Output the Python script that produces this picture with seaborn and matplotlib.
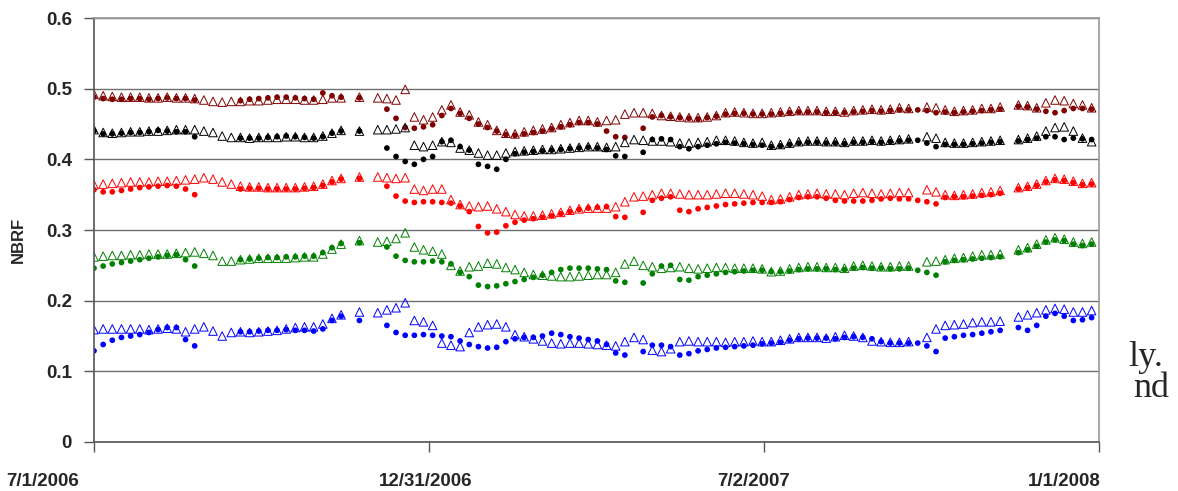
import numpy as np
import pandas as pd
import seaborn as sns
import matplotlib.pyplot as plt
from matplotlib.transforms import ScaledTranslation

nan = np.nan

# sampling dates: every 5 days from 7/1/2006 (110 samples)
dates = pd.date_range('2006-07-01', periods=110, freq='5D')

# dark red band
dr_t = [0.492, 0.490, 0.489, 0.488, 0.488, 0.488, 0.487, 0.487, 0.488, 0.487,
        0.487, 0.486, 0.484, 0.482, 0.481, 0.482, 0.482, 0.483, 0.483, 0.484,
        0.485, 0.485, 0.485, 0.484, 0.484, 0.485, 0.487, 0.487, nan, 0.488,
        nan, 0.487, 0.486, 0.484, 0.499, 0.460, 0.456, 0.460, 0.470, 0.477,
        0.467, 0.463, 0.453, 0.449, 0.441, 0.437, 0.436, 0.439, 0.441, 0.443,
        0.445, 0.449, 0.452, 0.455, 0.455, 0.453, 0.455, 0.456, 0.464, 0.466,
        0.466, 0.465, 0.462, 0.461, 0.460, 0.459, 0.459, 0.460, 0.462, 0.466,
        0.467, 0.466, 0.465, 0.465, 0.466, 0.467, 0.468, 0.469, 0.469, 0.469,
        0.468, 0.468, 0.467, 0.469, 0.470, 0.471, 0.470, 0.471, 0.473, 0.472,
        nan, 0.474, 0.473, 0.470, 0.468, 0.469, 0.470, 0.472, 0.472, 0.474,
        nan, 0.477, 0.476, 0.473, 0.480, 0.484, 0.483, 0.479, 0.477, 0.473]
dr_d = [0.488, 0.486, 0.485, 0.485, 0.486, 0.486, 0.485, 0.486, 0.487, 0.486,
        0.486, 0.484, nan, nan, nan, nan, 0.483, 0.485, 0.486, 0.487,
        0.488, 0.488, 0.487, 0.486, 0.485, 0.494, 0.490, 0.488, nan, 0.487,
        nan, nan, 0.471, 0.458, 0.445, 0.444, 0.446, 0.449, 0.462, 0.472,
        0.465, 0.458, 0.450, 0.445, 0.440, 0.435, 0.434, 0.436, 0.438, 0.440,
        0.443, 0.446, 0.449, 0.452, 0.452, 0.450, 0.440, 0.432, 0.431, nan,
        0.444, 0.460, 0.462, 0.460, 0.459, 0.458, 0.457, 0.459, 0.461, 0.464,
        0.465, 0.465, 0.464, 0.464, 0.464, 0.465, 0.466, 0.467, 0.467, 0.467,
        0.466, 0.466, 0.466, 0.467, 0.468, 0.469, 0.468, 0.469, 0.470, 0.470,
        0.470, 0.469, 0.466, 0.467, 0.466, 0.467, 0.468, 0.469, 0.470, 0.471,
        nan, 0.475, 0.474, 0.471, 0.468, 0.466, 0.469, 0.472, 0.472, 0.471]

# black band
bk_t = [0.442, 0.438, 0.437, 0.438, 0.439, 0.439, 0.440, 0.440, 0.441, 0.442,
        0.442, 0.442, 0.440, 0.438, 0.433, 0.431, 0.431, 0.430, 0.431, 0.431,
        0.431, 0.432, 0.432, 0.431, 0.431, 0.433, 0.437, 0.441, nan, 0.440,
        nan, 0.442, 0.442, 0.443, 0.445, 0.420, 0.418, 0.420, 0.425, 0.424,
        0.416, 0.413, 0.409, 0.406, 0.406, 0.409, 0.411, 0.412, 0.413, 0.414,
        0.414, 0.415, 0.416, 0.417, 0.418, 0.418, 0.417, 0.418, 0.424, 0.428,
        0.427, 0.426, 0.426, 0.425, 0.423, 0.423, 0.424, 0.425, 0.427, 0.427,
        0.426, 0.424, 0.423, 0.424, 0.420, 0.421, 0.423, 0.425, 0.426, 0.426,
        0.425, 0.425, 0.424, 0.426, 0.426, 0.427, 0.426, 0.427, 0.428, 0.429,
        nan, 0.432, 0.430, 0.424, 0.423, 0.423, 0.424, 0.425, 0.426, 0.427,
        nan, 0.428, 0.430, 0.433, 0.440, 0.445, 0.446, 0.440, 0.430, 0.425]
bk_d = [0.440, 0.436, 0.436, 0.437, 0.438, 0.438, 0.439, 0.441, 0.440, 0.439,
        0.439, 0.432, nan, nan, nan, nan, 0.430, 0.430, 0.430, 0.431,
        0.432, 0.433, 0.432, 0.431, 0.430, 0.432, 0.437, 0.440, nan, 0.440,
        nan, nan, 0.416, 0.404, 0.397, 0.393, 0.400, 0.404, 0.425, 0.427,
        0.418, 0.413, 0.393, 0.390, 0.386, 0.400, 0.408, 0.410, 0.411, 0.412,
        0.413, 0.414, 0.415, 0.416, 0.417, 0.416, 0.414, 0.405, 0.404, nan,
        0.410, 0.428, 0.429, 0.428, 0.418, 0.415, 0.418, 0.420, 0.422, 0.424,
        0.423, 0.422, 0.421, 0.420, 0.418, 0.419, 0.421, 0.423, 0.424, 0.424,
        0.423, 0.423, 0.422, 0.424, 0.424, 0.425, 0.424, 0.425, 0.426, 0.427,
        0.427, 0.423, 0.418, 0.421, 0.421, 0.421, 0.422, 0.423, 0.424, 0.425,
        nan, 0.426, 0.428, 0.430, 0.432, 0.432, 0.428, 0.430, 0.429, 0.428]

# red band
rd_t = [0.364, 0.365, 0.366, 0.367, 0.368, 0.368, 0.368, 0.369, 0.369, 0.370,
        0.371, 0.372, 0.374, 0.372, 0.368, 0.365, 0.362, 0.361, 0.361, 0.360,
        0.360, 0.360, 0.360, 0.361, 0.362, 0.365, 0.370, 0.373, nan, 0.375,
        nan, 0.375, 0.374, 0.373, 0.374, 0.358, 0.356, 0.358, 0.358, 0.343,
        0.336, 0.334, 0.333, 0.334, 0.330, 0.326, 0.322, 0.320, 0.320, 0.321,
        0.323, 0.325, 0.328, 0.330, 0.331, 0.331, 0.331, 0.333, 0.340, 0.347,
        0.348, 0.350, 0.352, 0.352, 0.351, 0.350, 0.350, 0.350, 0.351, 0.352,
        0.352, 0.351, 0.350, 0.348, 0.343, 0.344, 0.347, 0.350, 0.351, 0.352,
        0.351, 0.351, 0.350, 0.352, 0.353, 0.352, 0.351, 0.352, 0.353, 0.353,
        nan, 0.357, 0.354, 0.350, 0.349, 0.350, 0.351, 0.353, 0.354, 0.356,
        nan, 0.360, 0.362, 0.365, 0.370, 0.373, 0.372, 0.369, 0.366, 0.367]
rd_d = [0.357, 0.354, 0.354, 0.356, 0.358, 0.360, 0.361, 0.362, 0.363, 0.362,
        0.358, 0.350, nan, nan, nan, nan, 0.358, 0.359, 0.359, 0.358,
        0.358, 0.358, 0.358, 0.359, 0.360, 0.363, 0.368, 0.372, nan, 0.373,
        nan, nan, 0.362, 0.348, 0.341, 0.339, 0.340, 0.340, 0.339, 0.338,
        0.334, 0.326, 0.305, 0.296, 0.297, 0.306, 0.311, 0.314, 0.316, 0.318,
        0.320, 0.323, 0.326, 0.329, 0.331, 0.332, 0.333, 0.319, 0.318, nan,
        0.325, 0.342, 0.345, 0.347, 0.328, 0.326, 0.330, 0.332, 0.334, 0.336,
        0.337, 0.338, 0.339, 0.339, 0.339, 0.340, 0.343, 0.346, 0.347, 0.347,
        0.345, 0.342, 0.341, 0.341, 0.341, 0.342, 0.344, 0.345, 0.344, 0.344,
        0.342, 0.340, 0.337, 0.346, 0.347, 0.347, 0.348, 0.349, 0.350, 0.352,
        nan, 0.358, 0.360, 0.363, 0.368, 0.371, 0.370, 0.367, 0.364, 0.365]

# green band
gn_t = [0.262, 0.263, 0.264, 0.264, 0.265, 0.265, 0.266, 0.266, 0.266, 0.267,
        0.268, 0.269, 0.267, 0.264, 0.256, 0.256, 0.258, 0.259, 0.260, 0.260,
        0.260, 0.260, 0.261, 0.262, 0.262, 0.266, 0.273, 0.280, nan, 0.285,
        nan, 0.283, 0.284, 0.288, 0.296, 0.276, 0.272, 0.270, 0.266, 0.250,
        0.242, 0.248, 0.249, 0.253, 0.252, 0.247, 0.244, 0.240, 0.237, 0.236,
        0.235, 0.234, 0.234, 0.235, 0.236, 0.237, 0.237, 0.240, 0.252, 0.256,
        0.250, 0.248, 0.246, 0.247, 0.248, 0.246, 0.245, 0.246, 0.247, 0.247,
        0.246, 0.246, 0.246, 0.245, 0.241, 0.242, 0.245, 0.247, 0.248, 0.248,
        0.247, 0.247, 0.246, 0.249, 0.250, 0.249, 0.248, 0.248, 0.249, 0.249,
        nan, 0.255, 0.256, 0.258, 0.260, 0.261, 0.263, 0.265, 0.265, 0.266,
        nan, 0.272, 0.275, 0.280, 0.286, 0.289, 0.287, 0.283, 0.281, 0.283]
gn_d = [0.246, 0.249, 0.252, 0.254, 0.256, 0.258, 0.260, 0.262, 0.264, 0.265,
        0.258, 0.249, nan, nan, nan, nan, 0.258, 0.259, 0.260, 0.261,
        0.261, 0.262, 0.262, 0.263, 0.263, 0.268, 0.275, 0.281, nan, 0.282,
        nan, nan, 0.276, 0.263, 0.257, 0.255, 0.255, 0.256, 0.255, 0.252,
        0.240, 0.234, 0.222, 0.220, 0.221, 0.224, 0.227, 0.230, 0.233, 0.236,
        0.240, 0.244, 0.246, 0.246, 0.246, 0.245, 0.244, 0.228, 0.226, nan,
        0.225, 0.238, 0.249, 0.250, 0.230, 0.229, 0.234, 0.236, 0.238, 0.240,
        0.241, 0.242, 0.243, 0.243, 0.241, 0.241, 0.242, 0.244, 0.245, 0.245,
        0.245, 0.244, 0.244, 0.246, 0.247, 0.246, 0.246, 0.245, 0.245, 0.246,
        0.243, 0.240, 0.236, 0.255, 0.257, 0.258, 0.259, 0.260, 0.261, 0.262,
        nan, 0.268, 0.272, 0.277, 0.283, 0.286, 0.285, 0.280, 0.278, 0.280]

# blue band
bl_t = [0.159, 0.160, 0.160, 0.160, 0.160, 0.160, 0.159, 0.160, 0.161, 0.160,
        0.156, 0.160, 0.163, 0.157, 0.150, 0.155, 0.156, 0.155, 0.156, 0.157,
        0.158, 0.160, 0.162, 0.163, 0.163, 0.167, 0.175, 0.180, nan, 0.184,
        nan, 0.183, 0.187, 0.190, 0.197, 0.172, 0.170, 0.165, 0.140, 0.137,
        0.135, 0.155, 0.163, 0.166, 0.167, 0.163, 0.152, 0.149, 0.146, 0.143,
        0.140, 0.139, 0.140, 0.140, 0.139, 0.138, 0.137, 0.136, 0.142, 0.148,
        0.145, 0.130, 0.128, 0.132, 0.142, 0.143, 0.142, 0.142, 0.142, 0.141,
        0.142, 0.142, 0.143, 0.142, 0.142, 0.144, 0.146, 0.148, 0.148, 0.148,
        0.147, 0.149, 0.151, 0.150, 0.148, 0.143, 0.142, 0.141, 0.141, 0.142,
        nan, 0.148, 0.160, 0.165, 0.166, 0.167, 0.169, 0.170, 0.170, 0.171,
        nan, 0.177, 0.180, 0.183, 0.187, 0.189, 0.188, 0.184, 0.184, 0.186]
bl_d = [0.129, 0.138, 0.144, 0.148, 0.150, 0.152, 0.155, 0.159, 0.162, 0.162,
        0.145, 0.136, nan, nan, nan, nan, 0.156, 0.156, 0.157, 0.158,
        0.158, 0.159, 0.158, 0.158, 0.157, 0.160, 0.172, 0.178, nan, 0.172,
        nan, nan, 0.165, 0.155, 0.151, 0.151, 0.152, 0.151, 0.150, 0.149,
        0.143, 0.138, 0.135, 0.133, 0.134, 0.142, 0.146, 0.148, 0.148, 0.150,
        0.154, 0.152, 0.149, 0.147, 0.145, 0.143, 0.138, 0.126, 0.123, nan,
        0.128, 0.137, 0.137, 0.135, 0.123, 0.125, 0.129, 0.131, 0.133, 0.134,
        0.135, 0.136, 0.137, 0.139, 0.140, 0.141, 0.144, 0.146, 0.147, 0.147,
        0.147, 0.146, 0.148, 0.149, 0.148, 0.146, 0.142, 0.140, 0.140, 0.140,
        0.140, 0.136, 0.128, 0.147, 0.149, 0.151, 0.152, 0.154, 0.156, 0.158,
        nan, 0.162, 0.158, 0.165, 0.178, 0.182, 0.178, 0.172, 0.173, 0.176]

bands = ['dark red', 'black', 'red', 'green', 'blue']
band_colors = ['#800000', '#000000', '#ff0000', '#008000', '#0000ff']
dot_series = [dr_d, bk_d, rd_d, gn_d, bl_d]
tri_series = [dr_t, bk_t, rd_t, gn_t, bl_t]

y_ticks = [0, 0.1, 0.2, 0.3, 0.4, 0.5, 0.6]
y_tick_labels = ['0', '0.1', '0.2', '0.3', '0.4', '0.5', '0.6']
x_ticks = ['2006-07-01', '2006-12-31', '2007-07-02', '2008-01-01']
x_tick_labels = ['7/1/2006', '12/31/2006', '7/2/2007', '1/1/2008']


def build_frame():
    frames = []
    for name, d, t in zip(bands, dot_series, tri_series):
        frames.append(pd.DataFrame({'date': dates, 'nbrf': d, 'band': name, 'kind': 'dot'}))
        frames.append(pd.DataFrame({'date': dates, 'nbrf': t, 'band': name, 'kind': 'triangle'}))
    return pd.concat(frames, ignore_index=True).dropna()


def main():
    df = build_frame()
    palette = dict(zip(bands, band_colors))

    sns.set_style('white')
    plt.rcParams['font.family'] = ['Liberation Sans', 'DejaVu Sans']

    fig, ax = plt.subplots(figsize=(11.78, 4.91), dpi=100)
    fig.subplots_adjust(left=0.0798, right=0.9329, bottom=0.0998, top=0.9633)

    # grid first so the points sit on top
    ax.set_axisbelow(True)
    ax.yaxis.grid(True, color='#6f6f6f', linewidth=1.0)
    ax.xaxis.grid(False)

    sns.scatterplot(data=df[df['kind'] == 'dot'], x='date', y='nbrf', hue='band',
                    palette=palette, marker='o', s=17, linewidth=0, legend=False, ax=ax)
    sns.scatterplot(data=df[df['kind'] == 'triangle'], x='date', y='nbrf', hue='band',
                    palette=palette, marker='^', s=38, linewidth=0.7, legend=False, ax=ax)
    # open triangles: move hue colour to the edge
    tri = ax.collections[-1]
    tri.set_edgecolors(tri.get_facecolors())
    tri.set_facecolors('none')

    ax.set_ylim(0, 0.6)
    ax.set_yticks(y_ticks)
    ax.set_yticklabels(y_tick_labels)
    ax.set_xlim(pd.Timestamp(x_ticks[0]), pd.Timestamp(x_ticks[-1]))
    ax.set_xticks([pd.Timestamp(t) for t in x_ticks])
    ax.set_xticklabels(x_tick_labels)

    ax.set_xlabel('')
    ax.set_ylabel('NBRF', fontsize=12, fontweight='bold')
    ax.yaxis.set_label_coords(-0.068, 0.476)

    for side in ['left', 'bottom']:
        ax.spines[side].set_color('#555555')
        ax.spines[side].set_linewidth(1.2)
    for side in ['top', 'right']:
        ax.spines[side].set_color('#999999')
        ax.spines[side].set_linewidth(1.2)

    ax.tick_params(axis='both', direction='out', length=7, width=1.0, color='#555555',
                   labelsize=13.5, bottom=True, left=True)
    ax.tick_params(axis='x', pad=15)
    ax.tick_params(axis='y', pad=9)
    for lab in ax.get_xticklabels() + ax.get_yticklabels():
        lab.set_fontweight('bold')

    # Excel-style label shifts (pixels)
    shifts = [-51, -3, -10, -35]
    for lab, dx in zip(ax.get_xticklabels(), shifts):
        lab.set_transform(lab.get_transform() + ScaledTranslation(dx / 100, 0, fig.dpi_scale_trans))

    # fragments of the surrounding page text
    fig.text(1128 / 1178, 1 - 366 / 491, 'ly.', family='Liberation Serif', fontsize=26, va='baseline')
    fig.text(1133 / 1178, 1 - 397 / 491, 'nd', family='Liberation Serif', fontsize=26, va='baseline')

    fig.savefig('out.png', dpi=100)


if __name__ == '__main__':
    main()
